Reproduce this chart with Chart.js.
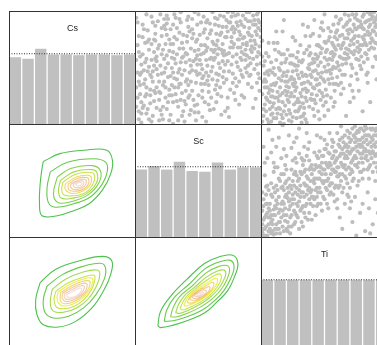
<!DOCTYPE html>
<html>
<head>
<meta charset="utf-8">
<script src="https://cdn.jsdelivr.net/npm/chart.js@4.4.0/dist/chart.umd.min.js"></script>
<style>
  html, body { margin: 0; padding: 0; background: #fff; }
  body { width: 377px; height: 345px; overflow: hidden; position: relative; }
  canvas { position: absolute; }
</style>
</head>
<body>
<canvas id="p00" width="127" height="114"></canvas>
<canvas id="p01" width="127" height="114"></canvas>
<canvas id="p02" width="127" height="114"></canvas>
<canvas id="p10" width="127" height="114"></canvas>
<canvas id="p11" width="127" height="114"></canvas>
<canvas id="p12" width="127" height="114"></canvas>
<canvas id="p20" width="127" height="114"></canvas>
<canvas id="p21" width="127" height="114"></canvas>
<canvas id="p22" width="127" height="114"></canvas>
<script>
// variables on the diagonal
const varNames = ['Cs', 'Sc', 'Ti'];

// histogram bins (centres) and counts, expected count per bin = 100
const binCenters = [1, 2, 3, 4, 5, 6, 7, 8, 9, 10];
const histCs = [95, 93, 107, 99, 99, 98, 99, 99, 98, 99];
const histSc = [96, 101, 96, 107, 94, 93, 106, 96, 99, 99];
const histTi = [100, 100, 100, 100, 100, 100, 100, 100, 100, 100];
const expectedCount = 100;

// scatter points, [x, y] on a 0-100 scale
// x = Sc, y = Cs
const pointsScCs = [
  [3,12],[7,48],[11,5],[15,30],[2,70],[19,22],[23,58],[6,88],[28,9],[31,41],
  [35,67],[9,27],[40,18],[44,52],[13,95],[48,73],[52,36],[17,60],[56,90],[60,47],
  [4,35],[64,80],[68,25],[21,78],[72,62],[76,95],[25,14],[80,55],[84,88],[29,50],
  [88,70],[92,33],[33,85],[96,97],[1,57],[37,28],[99,77],[5,2],[41,62],[8,40],
  [45,93],[12,19],[49,44],[16,74],[53,7],[20,52],[57,68],[24,33],[61,99],[27,65],
  [65,39],[30,1],[69,86],[34,46],[73,15],[38,79],[77,60],[42,24],[81,97],[46,56],
  [85,42],[50,11],[89,81],[54,63],[93,58],[58,29],[97,92],[62,71],[10,83],[66,54],
  [14,8],[70,37],[18,44],[74,90],[22,66],[78,28],[26,93],[82,75],[30,20],[86,62],
  [36,55],[90,99],[39,3],[94,49],[43,82],[98,69],[47,17],[2,24],[51,57],[6,62],
  [55,84],[10,47],[59,13],[14,38],[63,66],[18,91],[67,50],[22,5],[71,77],[26,42],
  [75,31],[30,71],[79,84],[34,16],[83,48],[38,60],[87,93],[42,35],[91,66],[46,80],
  [95,82],[50,26],[99,54],[54,95],[3,78],[58,43],[7,17],[62,14],[11,66],[66,87],
  [15,52],[70,61],[19,4],[74,47],[23,87],[78,71],[27,26],[82,38],[31,97],[86,86],
  [35,36],[90,59],[39,48],[94,74],[43,9],[98,41],[47,65],[1,94],[51,79],[5,53],
  [55,20],[9,10],[59,58],[13,71],[63,31],[17,33],[67,96],[21,45],[71,53],[25,79],
  [75,68],[29,35],[79,22],[33,62],[83,79],[37,8],[87,57],[41,73],[91,44],[45,30],
  [95,71],[49,88],[16,58],[53,49],[20,13],[57,76],[24,50],[61,40],[28,84],[65,62],
  [32,27],[69,71],[36,90],[73,82],[40,55],[77,45],[44,13],[81,68],[48,37],[85,96],
  [52,62],[89,52],[56,3],[93,88],[60,83],[97,64],[64,20],[4,44],[68,66],[8,72],
  [72,92],[12,31],[76,53],[16,87],[80,34],[20,28],[84,64],[24,71],[88,46],[28,43],
  [92,78],[32,94],[96,37],[36,22],[100,87],[40,38],[5,20],[44,67],[9,58],[48,4],
  [13,42],[52,90],[17,15],[56,57],[21,62],[60,66],[25,96],[64,45],[29,59],[68,9],
  [33,75],[72,40],[37,44],[76,77],[41,92],[80,90],[45,48],[84,26],[49,61],[88,61],
  [53,24],[92,69],[57,39],[96,53],[61,73],[3,5],[65,93],[7,36],[69,56],[11,75],
  [73,24],[15,21],[77,86],[19,70],[81,51],[23,38],[85,76],[27,4],[89,91],[31,58],
  [6,15],[13,3],[21,9],[27,31],[34,4],[39,21],[47,11],[53,30],[58,18],[64,35],
  [71,12],[79,41],[86,24],[93,15],[98,30],[4,60],[11,51],[18,67],[24,84],[32,54],
  [37,72],[43,46],[49,53],[55,70],[62,57],[67,79],[74,63],[81,75],[87,66],[94,92],
  [2,90],[9,97],[16,80],[23,93],[30,88],[36,99],[42,86],[50,97],[57,92],[63,88],
  [70,95],[77,99],[83,91],[90,85],[97,99],[1,33],[8,25],[14,47],[22,35],[29,26],
  [35,49],[41,40],[48,58],[54,43],[61,51],[66,44],[73,56],[80,62],[87,50],[92,64],
  [99,62],[3,64],[10,73],[17,56],[25,61],[31,77],[38,67],[45,76],[52,70],[59,80],
  [65,74],[72,86],[78,81],[85,71],[91,91],[96,79],[5,10],[12,26],[19,38],[26,20],
  [33,40],[40,30],[46,22],[53,41],[60,24],[67,33],[74,7],[82,18],[89,36],[95,23],
  [2,46],[8,55],[15,64],[23,46],[30,64],[36,36],[43,57],[50,66],[57,52],[64,70],
  [70,47],[77,68],[84,57],[91,74],[97,45],[7,84],[14,90],[20,97],[27,75],[35,81],
  [41,78],[47,99],[54,81],[60,59],[68,81],[75,90],[82,82],[88,99],[94,67],[100,73],
  [4,27],[12,44],[19,29],[26,54],[34,33],[40,63],[48,47],[55,36],[62,64],[69,42],
  [76,73],[83,59],[90,79],[97,85],[6,77],[13,57],[21,85],[28,71],[35,93],[42,95],
  [49,75],[56,65],[63,94],[70,65],[77,37],[84,44],[91,54],[98,90],[3,38],[10,14],
  [17,49],[24,24],[31,33],[38,12],[44,38],[51,45],[58,35],[65,27],[72,77],[79,96],
  [86,77],[93,96],[1,16],[9,33],[16,28],[22,16],[30,46],[37,59],[43,26],[49,18],
  [56,46],[63,59],[69,63],[76,84],[83,68],[90,43],[96,60],[5,46],[15,75],[25,89],
  [33,21],[45,84],[52,53],[59,89],[66,67],[73,99],[81,87],[88,72],[95,88],[99,83]
];
// x = Ti, y = Cs
const pointsTiCs = [
  [2,8],[5,22],[8,3],[11,35],[14,15],[3,45],[17,28],[20,9],[6,60],[23,40],
  [26,18],[9,30],[29,52],[32,25],[12,6],[35,44],[38,61],[15,48],[41,33],[44,70],
  [18,12],[47,55],[50,38],[21,66],[53,74],[56,49],[24,3],[59,81],[62,60],[27,37],
  [65,72],[68,90],[30,14],[71,64],[74,85],[33,57],[77,78],[80,95],[36,29],[83,70],
  [86,88],[39,78],[89,99],[92,80],[42,8],[95,92],[98,74],[45,45],[1,27],[48,67],
  [4,38],[51,20],[7,14],[54,58],[10,50],[57,88],[13,24],[60,42],[16,39],[63,93],
  [19,55],[66,63],[22,20],[69,80],[25,61],[72,50],[28,33],[75,97],[31,70],[78,66],
  [34,10],[81,84],[37,50],[84,58],[40,27],[87,93],[43,62],[90,72],[46,30],[93,87],
  [49,83],[96,98],[52,47],[99,62],[55,24],[3,18],[58,68],[6,44],[61,35],[9,10],
  [64,79],[12,57],[67,54],[15,33],[70,92],[18,1],[73,71],[21,47],[76,40],[24,28],
  [79,86],[27,74],[82,63],[30,41],[85,79],[33,19],[88,51],[36,66],[91,94],[39,36],
  [94,77],[42,55],[97,85],[45,12],[100,96],[48,28],[2,52],[51,72],[5,5],[54,36],
  [8,25],[57,51],[11,66],[60,75],[14,41],[63,27],[17,20],[66,97],[20,34],[69,59],
  [23,10],[72,82],[26,53],[75,45],[29,23],[78,91],[32,46],[81,55],[35,78],[84,99],
  [38,16],[87,68],[41,47],[90,60],[44,26],[93,74],[47,85],[96,53],[50,59],[99,89],
  [53,13],[4,63],[56,41],[7,31],[59,95],[10,19],[62,48],[13,72],[65,32],[16,54],
  [68,76],[19,38],[71,43],[22,4],[74,65],[25,47],[77,57],[28,59],[80,77],[31,7],
  [83,44],[34,37],[86,80],[37,86],[89,67],[40,54],[92,96],[43,40],[95,64],[46,69],
  [98,48],[49,17],[1,74],[52,66],[6,2],[55,82],[9,46],[58,30],[12,14],[61,89],
  [15,26],[64,53],[18,62],[67,67],[21,29],[70,20],[24,42],[73,88],[27,12],[76,73],
  [30,56],[79,49],[33,31],[82,90],[36,43],[85,66],[39,63],[88,83],[42,22],[91,58],
  [45,52],[94,89],[48,90],[97,70],[51,31],[3,33],[54,77],[10,72],[57,16],[14,64],
  [60,55],[17,82],[63,67],[20,58],[66,44],[23,54],[69,96],[26,25],[72,30],[29,64],
  [75,84],[32,36],[78,52],[35,5],[81,75],[38,49],[84,37],[41,80],[87,99],[44,58],
  [90,86],[47,42],[93,69],[50,8],[96,91],[53,53],[99,79],[56,64],[8,55],[59,36],
  [1,3],[4,12],[7,20],[10,6],[13,29],[16,9],[19,17],[22,33],[25,7],[28,20],
  [31,28],[34,15],[37,38],[40,22],[43,48],[46,36],[49,25],[52,57],[55,45],[58,62],
  [61,52],[64,70],[67,58],[70,84],[73,76],[76,68],[79,88],[82,79],[85,92],[88,74],
  [91,88],[94,97],[97,81],[100,90],[2,38],[5,47],[8,35],[11,24],[14,50],[17,43],
  [20,26],[23,61],[26,40],[29,12],[32,55],[35,32],[38,69],[41,58],[44,40],[47,63],
  [50,73],[53,40],[56,57],[59,66],[62,78],[65,86],[68,62],[71,74],[74,94],[77,86],
  [80,70],[83,91],[86,72],[89,82],[92,86],[95,99],[98,93],[3,56],[6,28],[9,16],
  [12,37],[15,2],[18,46],[21,22],[24,54],[27,30],[30,20],[33,43],[36,21],[39,44],
  [42,32],[45,60],[48,46],[51,64],[54,48],[57,70],[60,83],[63,59],[66,76],[69,66],
  [72,97],[75,58],[78,70],[81,97],[84,82],[87,76],[90,92],[93,80],[96,75],[99,99],
  [2,14],[5,33],[8,9],[11,44],[14,21],[17,6],[20,43],[23,25],[26,34],[29,44],
  [32,2],[35,24],[38,53],[41,14],[44,35],[47,22],[50,51],[53,85],[56,72],[59,50],
  [62,92],[65,58],[68,83],[71,53],[74,78],[77,64],[80,85],[83,62],[86,97],[89,90],
  [92,71],[95,83],[98,60],[1,60],[4,24],[7,48],[10,36],[13,10],[16,62],[19,30],
  [22,13],[25,36],[28,48],[31,16],[34,63],[37,30],[40,42],[43,19],[46,78],[49,40],
  [52,26],[55,63],[58,77],[61,70],[64,44],[67,88],[70,70],[73,62],[76,92],[79,60],
  [82,72],[85,86],[88,95],[91,79],[94,65],[97,97],[100,84],[6,72],[12,82],[18,92],
  [25,77],[33,88],[42,92],[50,97],[57,60],[63,37],[70,35],[77,30],[84,46],[91,40],
  [97,58],[94,30],[86,20],[80,12],[73,24],[67,8],[58,20],[46,5],[36,2],[28,6],
  [3,40],[9,25],[15,14],[21,38],[27,52],[33,8],[39,23],[45,70],[51,47],[57,36]
];
// x = Ti, y = Sc
const pointsTiSc = [
  [1,5],[3,18],[5,2],[7,30],[9,12],[11,40],[13,8],[15,25],[17,45],[19,15],
  [21,35],[23,4],[25,50],[27,22],[29,38],[31,58],[33,28],[35,46],[37,16],[39,62],
  [41,36],[43,52],[45,70],[47,30],[49,60],[51,44],[53,75],[55,56],[57,38],[59,68],
  [61,82],[63,50],[65,74],[67,60],[69,88],[71,66],[73,52],[75,80],[77,93],[79,70],
  [81,60],[83,86],[85,76],[87,95],[89,66],[91,84],[93,99],[95,78],[97,90],[99,96],
  [2,28],[4,10],[6,42],[8,20],[10,3],[12,33],[14,52],[16,18],[18,30],[20,60],
  [22,25],[24,43],[26,12],[28,55],[30,32],[32,70],[34,48],[36,38],[38,22],[40,56],
  [42,75],[44,44],[46,63],[48,50],[50,34],[52,82],[54,66],[56,48],[58,58],[60,92],
  [62,72],[64,40],[66,80],[68,70],[70,56],[72,96],[74,84],[76,62],[78,74],[80,88],
  [82,98],[84,68],[86,84],[88,58],[90,94],[92,74],[94,88],[96,66],[98,82],[100,72],
  [1,40],[3,55],[5,22],[7,8],[9,36],[11,20],[13,62],[15,4],[17,32],[19,48],
  [21,14],[23,28],[25,68],[27,40],[29,18],[31,46],[33,10],[35,60],[37,78],[39,30],
  [41,50],[43,20],[45,40],[47,88],[49,72],[51,56],[53,26],[55,64],[57,84],[59,46],
  [61,62],[63,98],[65,44],[67,82],[69,36],[71,76],[73,90],[75,64],[77,50],[79,82],
  [81,94],[83,72],[85,52],[87,80],[89,90],[91,62],[93,80],[95,95],[97,56],[99,86],
  [2,16],[4,30],[6,6],[8,48],[10,25],[12,12],[14,36],[16,70],[18,6],[20,38],
  [22,52],[24,20],[26,34],[28,66],[30,8],[32,26],[34,58],[36,72],[38,44],[40,16],
  [42,34],[44,62],[46,52],[48,24],[50,78],[52,42],[54,92],[56,70],[58,32],[60,54],
  [62,80],[64,64],[66,54],[68,94],[70,44],[72,68],[74,72],[76,86],[78,58],[80,66],
  [82,78],[84,90],[86,64],[88,76],[90,50],[92,90],[94,70],[96,86],[98,60],[100,94],
  [2,2],[4,45],[6,26],[8,14],[10,58],[12,4],[14,22],[16,44],[18,56],[20,8],
  [22,40],[24,60],[26,24],[28,44],[30,74],[32,14],[34,36],[36,54],[38,68],[40,42],
  [42,60],[44,28],[46,76],[48,66],[50,50],[52,30],[54,46],[56,86],[58,76],[60,34],
  [62,46],[64,78],[66,90],[68,48],[70,74],[72,58],[74,98],[76,46],[78,86],[80,52],
  [82,70],[84,82],[86,96],[88,86],[90,72],[92,58],[94,92],[96,74],[98,100],[99,70],
  [5,70],[12,80],[20,72],[28,88],[36,92],[62,18],[70,26],[80,30],[88,12],[95,40],
  [1,12],[3,2],[5,30],[7,18],[9,6],[11,28],[13,42],[15,14],[17,24],[19,36],
  [21,6],[23,46],[25,30],[27,14],[29,50],[31,24],[33,40],[35,28],[37,52],[39,40],
  [41,28],[43,64],[45,52],[47,40],[49,48],[51,66],[53,52],[55,40],[57,60],[59,76],
  [61,54],[63,66],[65,84],[67,72],[69,62],[71,86],[73,78],[75,70],[77,82],[79,96],
  [81,84],[83,76],[85,90],[87,70],[89,82],[91,96],[93,86],[95,70],[97,96],[99,80],
  [2,34],[4,20],[6,12],[8,38],[10,20],[12,46],[14,8],[16,30],[18,42],[20,20],
  [22,32],[24,10],[26,46],[28,30],[30,42],[32,56],[34,22],[36,46],[38,34],[40,64],
  [42,48],[44,36],[46,58],[48,72],[50,60],[52,50],[54,74],[56,60],[58,44],[60,70],
  [62,86],[64,56],[66,70],[68,80],[70,92],[72,78],[74,64],[76,94],[78,80],[80,74],
  [82,90],[84,60],[86,74],[88,96],[90,80],[92,66],[94,78],[96,98],[98,88],[100,80],
  [1,24],[3,8],[5,46],[7,24],[9,16],[11,8],[13,30],[15,50],[17,10],[19,26],
  [21,44],[23,18],[25,38],[27,58],[29,28],[31,36],[33,64],[35,18],[37,42],[39,50],
  [41,60],[43,42],[45,30],[47,62],[49,36],[51,78],[53,62],[55,48],[57,72],[59,58],
  [61,44],[63,74],[65,62],[67,52],[69,80],[71,60],[73,70],[75,92],[77,66],[79,58],
  [81,76],[83,96],[85,62],[87,88],[89,74],[91,90],[93,64],[95,86],[97,74],[99,92],
  [2,8],[4,38],[6,18],[8,4],[10,44],[12,26],[14,14],[16,56],[18,20],[20,50],
  [22,10],[24,34],[26,56],[28,20],[30,52],[32,40],[34,68],[36,30],[38,60],[40,36],
  [42,52],[44,72],[46,44],[48,56],[50,86],[52,64],[54,38],[56,80],[58,66],[60,62],
  [62,56],[64,88],[66,64],[68,76],[70,84],[72,50],[74,88],[76,76],[78,96],[80,80],
  [10,66],[18,78],[26,84],[34,80],[44,90],[66,30],[74,36],[84,40],[92,22],[97,50],
  [3,66],[8,75],[14,88],[6,95],[19,64],[24,79],[11,62],[30,96],[17,99],[33,68],
  [38,84],[9,86],[27,70],[2,80],[22,90],[64,8],[72,14],[86,4],[93,28],[78,22],
  [98,18],[68,38],[90,34],[82,6],[75,2],[96,8],[60,26],[85,26],[99,36],[71,32]
];

// density contours, outer level first, vertices [x, y] on a 0-100 scale
// x = Cs, y = Sc
const contourCsSc = [
  [[27,67],[40,74],[59,77],[77,77],[81.5,68],[80,56],[73.5,42],[63,30],[51,24],[38,19.5],[26,19.5],[24,30],[24.5,47],[26,61]],
  [[32.5,58],[46,66.5],[67,69.5],[76,66.5],[77.5,59],[73.5,47.5],[64,36],[51,30],[36.5,27],[31,31],[30,44.5]],
  [[38,53.5],[48.5,61],[65.5,63.5],[72,59],[71,49],[63,38.5],[51,32.5],[39,31],[35,38.5]],
  [[40.5,50.5],[51,58],[65.5,60],[69.5,56.5],[68.5,47.5],[60.5,38.5],[50,35],[41,35],[39,41.5]],
  [[42.5,49],[52.5,56],[64.5,57.5],[67.5,54],[65.5,46],[59,39],[50,37],[43,38],[41.5,43]],
  [[44.5,47.5],[53,53.5],[62,55],[65,52.5],[63.5,46],[58,41],[50,39],[45.5,41],[44,44]],
  [[46.5,47],[53.5,52],[61,53],[63,50.5],[61.5,45.5],[57,42],[50.5,41],[47,42.5]],
  [[48.5,47],[54,50.5],[59.5,51.5],[61,49.5],[59.5,45.5],[55.5,43],[51,42.5],[48.5,44.5]],
  [[50.5,47],[54.5,49.5],[58,50],[59,48.5],[57.5,45.5],[54.5,44.2],[51.5,44.5]],
  [[52.5,47],[55,48.6],[57,48.6],[57.2,47.2],[55.5,46],[53.3,45.8]]
];
// x = Cs, y = Ti
const contourCsTi = [
  [[24.5,60],[36.5,71.5],[55,79],[73.5,83],[81,79],[80,67],[75,54],[65.5,38],[52.5,26],[39,21],[27,23],[22,32],[21,45]],
  [[30,57],[42,67],[57.5,74],[72,77],[76,73],[75,63],[68.5,49.5],[59,38],[47,30.5],[35,29],[28.5,33.5],[27,45]],
  [[34,54],[44.5,63],[59,69.5],[69.5,71],[71.5,67.5],[69.5,58.5],[63,46.5],[53.5,38],[43,34],[35,35],[32.5,42]],
  [[37,52.5],[47,60],[59,65],[67,66.5],[67.5,62],[65,54],[59,45],[51,39],[42,37],[37,39],[35.5,46]],
  [[38.5,51.5],[48,58.5],[58,63],[65,64],[66,60.5],[63.5,53.5],[57.5,46],[50,41],[43,39.5],[39,42],[37.8,46.5]],
  [[40.5,51],[49,57],[57.5,61],[63,61.5],[63.8,58.5],[61.5,52.5],[56,46.5],[49.5,42.5],[43.5,41.5],[40.5,44]],
  [[42,50.5],[49.5,55.5],[57,59],[61,59.3],[61.5,56.5],[59.5,51.5],[54.5,47],[49,44],[44.5,43.5],[42,46]],
  [[43.8,50],[50,54],[56,57],[59,57],[59.2,54.8],[57,50.5],[53,47.3],[48.5,45.5],[45,45.5],[43.5,47.5]],
  [[45.5,49.5],[50.5,52.5],[55,55],[57,54.8],[56.8,52.5],[54.5,49.5],[50.5,47.3],[47.2,47],[45.3,48]]
];
// x = Sc, y = Ti
const contourScTi = [
  [[18,22],[20,34.5],[28,48],[41,63],[55,77],[66,82.5],[77,84],[81,77],[78.5,65.5],[73,53],[65,43.5],[55,33.5],[42,27],[29.5,22.5],[20,20.5]],
  [[23,26],[25,36],[31,47],[43,59],[55,72],[66,78],[75,79.5],[78,74],[75.5,64],[70,53],[62.5,44],[53,36],[41,30],[30,26.5]],
  [[28,30],[30,38],[35,47.5],[45,57],[56,68.5],[65.5,74],[72.5,75],[74.5,71],[72.5,63],[67.5,53.5],[60.5,45.5],[51.5,38.5],[41,33],[33,30]],
  [[32,33.5],[34,40],[38.5,48],[47,56],[56.5,65],[64.5,70],[70,71],[71.5,67.5],[69.5,61.5],[65,53.5],[58.5,46.5],[50.5,40.5],[41.5,35.5],[35.5,33]],
  [[35.5,37],[37.5,42.5],[41.5,49],[48.5,55.5],[56.5,62],[63,66.5],[67,67.5],[68,64.5],[66.5,59.5],[62.5,53],[57,47],[50,42],[42.5,38],[38,36]],
  [[38.5,40],[40.5,45],[44,50],[50,55],[56.5,59.5],[61.5,63],[64.5,63.5],[65,61],[63.5,57],[60,52],[55.5,47.5],[49.5,43.5],[43.5,40.5],[40,39.5]],
  [[41,42.5],[43,47],[46,51],[51,54.5],[56.5,57.5],[60,60],[62,60],[62,57.5],[60.5,54],[57,50],[53,46.5],[48.5,44],[44,42]],
  [[43,45],[45,48.5],[48,51.5],[52,54],[56,55.5],[58.5,56.5],[59,54.5],[57.5,51.5],[54.5,48.5],[50.5,46],[46.5,44.5]],
  [[45,47],[47,50],[50,52.5],[53.5,53.5],[56,53],[56,51],[54,49],[51,47],[47.5,46]],
  [[46.5,48.5],[48.5,50.5],[51,51.8],[53.5,51.8],[53.5,50],[51.5,48.5],[49,47.6]],
  [[48,49.5],[50,50.6],[52,50.6],[51.5,49.3],[49.5,48.8]]
];

// terrain-style palette, outer (low) to inner (high)
const terrainColors = ['#00A600', '#24B300', '#4CBF00', '#7ACC00', '#ADD900', '#E6E600',
                       '#E8C727', '#EAB64E', '#ECB176', '#EEB99F', '#F0CFC8'];

const colLeft = [9, 135, 261];
const rowTop = [11, 124, 237];

// frame round every panel
const framePlugin = {
    id: 'frame',
    afterDraw(chart) {
        const { ctx, chartArea: a } = chart;
        ctx.save();
        ctx.strokeStyle = '#333';
        ctx.lineWidth = 1;
        ctx.strokeRect(a.left + 0.5, a.top + 0.5, a.right - a.left - 1, a.bottom - a.top - 1);
        ctx.restore();
    }
};

// variable name on the diagonal panels
const labelPlugin = {
    id: 'varLabel',
    defaults: { text: '' },
    afterDatasetsDraw(chart, args, opts) {
        if (!opts.text) return;
        const { ctx, chartArea: a, scales } = chart;
        ctx.save();
        ctx.fillStyle = '#222';
        ctx.font = '9px "Liberation Sans", Arial, sans-serif';
        ctx.textAlign = 'center';
        ctx.textBaseline = 'middle';
        ctx.fillText(opts.text, (a.left + a.right) / 2, scales.y.getPixelForValue(135));
        ctx.restore();
    }
};

Chart.register(framePlugin, labelPlugin);

function baseOptions(scales, labelText) {
    return {
        responsive: false,
        animation: false,
        events: [],
        layout: { padding: 0, autoPadding: false },
        plugins: {
            legend: { display: false },
            tooltip: { enabled: false },
            varLabel: { text: labelText || '' }
        },
        scales: scales
    };
}

function unitScales() {
    return {
        x: { type: 'linear', min: 0, max: 100, display: false },
        y: { type: 'linear', min: 0, max: 100, display: false }
    };
}

function toXY(pairs) {
    return pairs.map(p => ({ x: p[0], y: p[1] }));
}

function withAlpha(hex, a) {
    const n = parseInt(hex.slice(1), 16);
    return `rgba(${n >> 16}, ${(n >> 8) & 255}, ${n & 255}, ${a})`;
}

function createHistogram(ctx, name, counts) {
    const first = binCenters[0] - 0.5;
    const last = binCenters[binCenters.length - 1] + 0.5;
    new Chart(ctx, {
        type: 'bar',
        data: {
            datasets: [{
                data: binCenters.map((b, i) => ({ x: b, y: counts[i] })),
                backgroundColor: '#c0c0c0',
                borderWidth: 0,
                barPercentage: 0.9,
                categoryPercentage: 1,
                order: 2
            }, {
                type: 'line',
                data: [{ x: first, y: expectedCount }, { x: last, y: expectedCount }],
                borderColor: '#333',
                borderWidth: 1,
                borderDash: [1, 1.5],
                pointRadius: 0,
                order: 1
            }]
        },
        options: baseOptions({
            x: { type: 'linear', min: first, max: last, offset: false, display: false },
            y: { min: 0, max: 160, display: false }
        }, name)
    });
}

function createScatter(ctx, pairs) {
    new Chart(ctx, {
        type: 'scatter',
        data: {
            datasets: [{
                data: toXY(pairs),
                backgroundColor: '#bdbdbd',
                borderWidth: 0,
                pointRadius: 2.1,
                clip: 0
            }]
        },
        options: baseOptions(unitScales())
    });
}

function createContour(ctx, loops) {
    const n = loops.length;
    const datasets = loops.map((loop, i) => ({
        data: toXY(loop.concat([loop[0]])),
        showLine: true,
        tension: 0.4,
        borderColor: withAlpha(terrainColors[Math.round(i * (terrainColors.length - 1) / (n - 1))], 0.7),
        borderWidth: 1.1,
        pointRadius: 0,
        fill: false,
        clip: 0
    }));
    new Chart(ctx, {
        type: 'scatter',
        data: { datasets: datasets },
        options: baseOptions(unitScales())
    });
}

document.addEventListener('DOMContentLoaded', function() {
    for (let r = 0; r < 3; r++) {
        for (let c = 0; c < 3; c++) {
            const el = document.getElementById('p' + r + c);
            el.style.left = colLeft[c] + 'px';
            el.style.top = rowTop[r] + 'px';
        }
    }
    createHistogram(document.getElementById('p00'), varNames[0], histCs);
    createHistogram(document.getElementById('p11'), varNames[1], histSc);
    createHistogram(document.getElementById('p22'), varNames[2], histTi);

    createScatter(document.getElementById('p01'), pointsScCs);
    createScatter(document.getElementById('p02'), pointsTiCs);
    createScatter(document.getElementById('p12'), pointsTiSc);

    createContour(document.getElementById('p10'), contourCsSc);
    createContour(document.getElementById('p20'), contourCsTi);
    createContour(document.getElementById('p21'), contourScTi);
});
</script>
</body>
</html>
